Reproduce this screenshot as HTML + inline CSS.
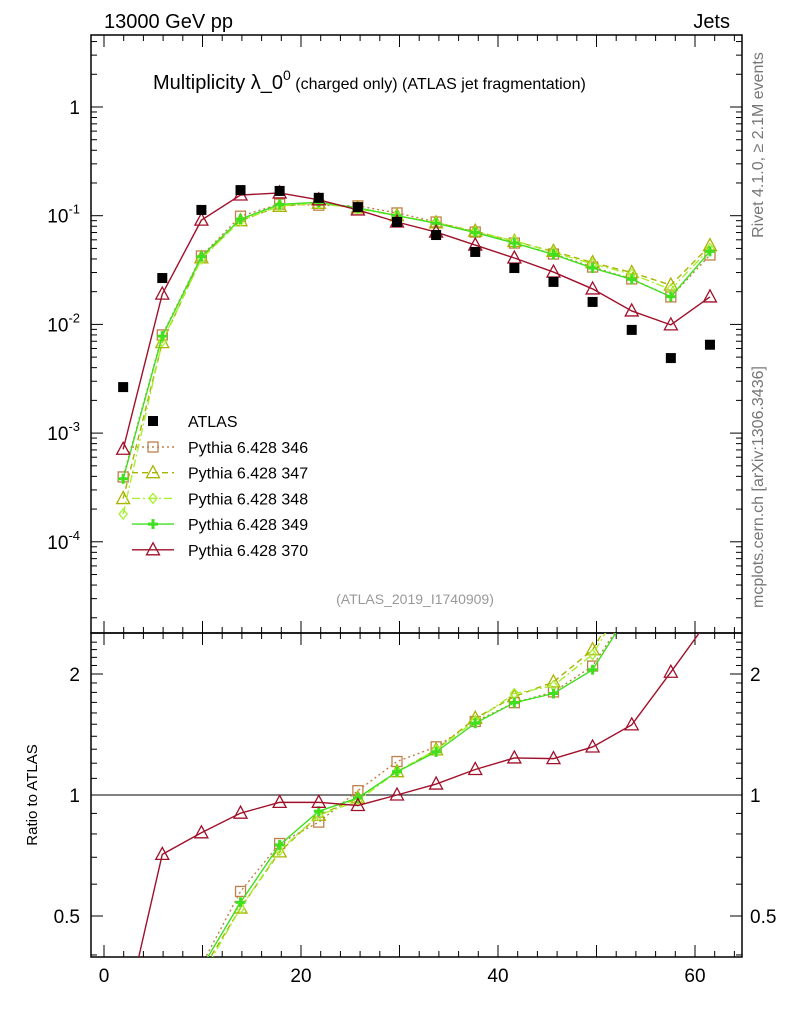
<!DOCTYPE html>
<html><head><meta charset="utf-8">
<style>html,body{margin:0;background:#fff;overflow:hidden;width:786px;height:1024px}svg{display:block;font-family:"Liberation Sans",sans-serif}</style>
</head><body>
<svg id="c" width="786" height="1024"></svg>
<script>
const xCenters=[2,6,10,14,18,22,26,30,34,38,42,46,50,54,58,62];
const atlas=[0.00265,0.0267,0.113,0.172,0.169,0.146,0.12,0.0875,0.0664,0.0464,0.033,0.0246,0.0161,0.0089,0.0049,0.0065];
const py346=[0.000395,0.008,0.0426,0.099,0.128,0.125,0.123,0.106,0.0875,0.0707,0.056,0.0444,0.0337,0.0262,0.0179,0.0435];
const py347=[0.00025,0.0068,0.041,0.09,0.122,0.13,0.118,0.1,0.086,0.072,0.058,0.047,0.037,0.03,0.023,0.053];
const py348=[0.00018,0.007,0.04,0.09,0.123,0.13,0.116,0.1,0.086,0.071,0.059,0.046,0.036,0.029,0.021,0.05];
const py349=[0.00038,0.0078,0.042,0.093,0.127,0.133,0.118,0.1,0.085,0.07,0.056,0.044,0.033,0.026,0.018,0.047];
const py370=[0.00071,0.019,0.091,0.155,0.162,0.14,0.113,0.0875,0.0707,0.0537,0.0408,0.0303,0.0212,0.0133,0.0099,0.0179];
const xTicks=[0,20,40,60];
const yTickExp=[-4,-3,-2,-1,0];
const rTicks=[0.5,1,2];
const series=[
 {name:"Pythia 6.428 346",v:py346,c:"#c0804a",d:"2,3",m:"sq"},
 {name:"Pythia 6.428 347",v:py347,c:"#a8b400",d:"6,4",m:"tri"},
 {name:"Pythia 6.428 348",v:py348,c:"#a8f030",d:"8,3,2,3",m:"dia"},
 {name:"Pythia 6.428 349",v:py349,c:"#40e020",d:"",m:"cross"},
 {name:"Pythia 6.428 370",v:py370,c:"#a0102a",d:"",m:"tri"}];
const NS="http://www.w3.org/2000/svg",svg=document.getElementById('c');
function el(t,a,p){const e=document.createElementNS(NS,t);for(const k in a)e.setAttribute(k,a[k]);(p||svg).appendChild(e);return e;}
const L=91,R=742,T=35,M=633,B=957;
const X=x=>104+(x)*9.85;
const PX=x=>103.6+(x)*9.78;
const Y=v=>107-Math.log10(v)*108.7;
const RY=v=>795-Math.log2(v)*121;
const defs=el('defs',{});
const c1=el('clipPath',{id:'cm'},defs);el('rect',{x:L,y:T,width:R-L,height:M-T},c1);
const c2=el('clipPath',{id:'cr'},defs);el('rect',{x:L,y:M,width:R-L,height:B-M},c2);
let f=el('rect',{x:L,y:T,width:R-L,height:M-T,fill:'none',stroke:'#000','stroke-width':1.5});

f=el('rect',{x:L,y:M,width:R-L,height:B-M,fill:'none',stroke:'#000','stroke-width':1.5});

for(let x=0;x<=64;x+=2){const big=x%10===0;const h=big?12:6;
 for(const [yb,yt] of [[M,T],[B,M]]){el('line',{x1:X(x),x2:X(x),y1:yb,y2:yb-h,stroke:'#000'});el('line',{x1:X(x),x2:X(x),y1:yt,y2:yt+h,stroke:'#000'});}}
xTicks.forEach(x=>{const t=el('text',{x:X(x),y:982,'font-size':19,'text-anchor':'middle'});t.textContent=x;
 });
for(let e=-5;e<=0;e++)for(let k=1;k<10;k++){const v=k*Math.pow(10,e);const y=Y(v);if(y<T||y>M)continue;const h=k===1?12:6;
 el('line',{x1:L,x2:L+h,y1:y,y2:y,stroke:'#000'});el('line',{x1:R,x2:R-h,y1:y,y2:y,stroke:'#000'});}
yTickExp.forEach(e=>{const t=el('text',{x:80,y:Y(Math.pow(10,e))+7,'font-size':19,'text-anchor':'end'});
 
 if(e===0)t.textContent='1';else{t.textContent='10';const s=el('tspan',{dy:-9,'font-size':13},t);s.textContent=e;}});
for(let v=0.4;v<=2.5;v+=0.1){const y=RY(v);if(y<M||y>B)continue;const big=rTicks.some(r=>Math.abs(r-v)<1e-6);const h=big?12:6;
 el('line',{x1:L,x2:L+h,y1:y,y2:y,stroke:'#000'});el('line',{x1:R,x2:R-h,y1:y,y2:y,stroke:'#000'});}
rTicks.forEach(r=>{for(const [x,a] of [[80,'end'],[750,'start']]){const t=el('text',{x:x,y:RY(r)+7,'font-size':19,'text-anchor':a});t.textContent=r;
 }});
el('line',{x1:L,x2:R,y1:RY(1),y2:RY(1),stroke:'#000'});
function marker(g,m,x,y,c){
 if(m==='sq')el('rect',{x:x-5,y:y-5,width:10,height:10,fill:'none',stroke:c,'stroke-width':1.3},g);
 else if(m==='tri')el('polygon',{points:`${x},${y-7} ${x-6.5},${y+5} ${x+6.5},${y+5}`,fill:'none',stroke:c,'stroke-width':1.3},g);
 else if(m==='dia')el('polygon',{points:`${x},${y-5} ${x-4},${y} ${x},${y+5} ${x+4},${y}`,fill:'none',stroke:c,'stroke-width':1.3},g);
 else {el('line',{x1:x-5,x2:x+5,y1:y,y2:y,stroke:c,'stroke-width':3},g);el('line',{x1:x,x2:x,y1:y-5,y2:y+5,stroke:c,'stroke-width':3},g);}
}
series.forEach((s,i)=>{
 const g=el('g',{'clip-path':'url(#cm)'});
 el('polyline',{points:xCenters.map((x,j)=>PX(x)+','+Y(s.v[j])).join(' '),fill:'none',stroke:s.c,'stroke-width':1.4,'stroke-dasharray':s.d},g);
 xCenters.forEach((x,j)=>marker(g,s.m,PX(x),Y(s.v[j]),s.c));
 const gr=el('g',{'clip-path':'url(#cr)'});
 const r=s.v.map((v,j)=>v/atlas[j]);
 el('polyline',{points:xCenters.map((x,j)=>PX(x)+','+RY(r[j])).join(' '),fill:'none',stroke:s.c,'stroke-width':1.4,'stroke-dasharray':s.d},gr);
 xCenters.forEach((x,j)=>marker(gr,s.m,PX(x),RY(r[j]),s.c));
 const ly=447+i*25.7;const lg=el('g',{});
 el('line',{x1:132,x2:174,y1:ly,y2:ly,stroke:s.c,'stroke-width':1.4,'stroke-dasharray':s.d},lg);marker(lg,s.m,153,ly,s.c);
 const t=el('text',{x:188,y:ly+6,'font-size':16},lg);t.textContent=s.name;
});
const ga=el('g',{'clip-path':'url(#cm)'});
xCenters.forEach((x,j)=>el('rect',{x:PX(x)-5,y:Y(atlas[j])-5,width:10,height:10,fill:'#000'},ga));
const la=el('g',{});
el('rect',{x:148,y:416,width:10,height:10,fill:'#000'},la);
let t=el('text',{x:188,y:427,'font-size':16},la);t.textContent='ATLAS';
function txt(x,y,s,str,a,extra){const t=el('text',Object.assign({x:x,y:y,'font-size':s,'text-anchor':a||'start'},extra||{}));t.textContent=str;return t;}
t=txt(104,28,20,'13000 GeV pp');
t=txt(730,28,20,'Jets','end');
t=el('text',{x:153,y:89,'font-size':20});
t.innerHTML='Multiplicity λ_0<tspan dy="-9" font-size="14">0</tspan><tspan dy="9" font-size="16"> (charged only) (ATLAS jet fragmentation)</tspan>';
t=txt(415,604,14,'(ATLAS_2019_I1740909)','middle',{fill:'#999'});
t=txt(0,0,16,'Rivet 4.1.0, ≥ 2.1M events','middle',{fill:'#777',transform:'translate(763,145) rotate(-90)'});
t=txt(0,0,16,'mcplots.cern.ch [arXiv:1306.3436]','middle',{fill:'#777',transform:'translate(763,487) rotate(-90)'});
t=txt(0,0,15,'Ratio to ATLAS','middle',{transform:'translate(37,795) rotate(-90)'});
</script>
</body></html>
